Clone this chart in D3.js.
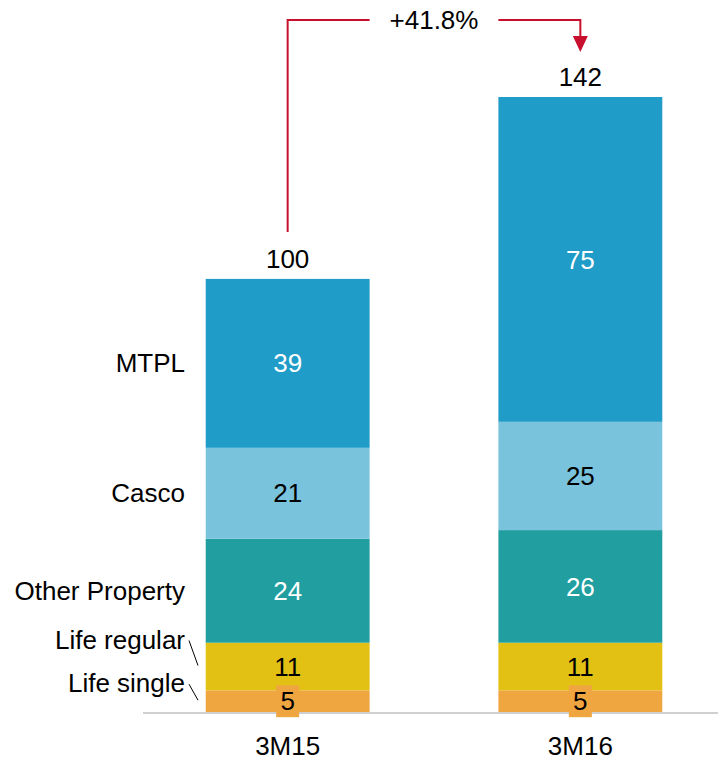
<!DOCTYPE html>
<html><head><meta charset="utf-8">
<script src="https://cdn.jsdelivr.net/npm/d3@7/dist/d3.min.js"></script>
<style>
html,body{margin:0;padding:0;background:#fff;}
svg{display:block;font-family:"Liberation Sans",Arial,sans-serif;}
</style></head>
<body><svg id="c" width="718" height="761"></svg>
<script>
// ---- data ----
const categories = ["3M15", "3M16"];
const segmentNames = ["Life single", "Life regular", "Other Property", "Casco", "MTPL"];
const lifeSingle = [5, 5];
const lifeRegular = [11, 11];
const otherProperty = [24, 26];
const casco = [21, 25];
const mtpl = [39, 75];
const totals = [100, 142];
const growthLabel = "+41.8%";

const colors = {"Life single":"#f0a640","Life regular":"#e3c014","Other Property":"#219e9f","Casco":"#7ac3dc","MTPL":"#1f9cc7"};
const textColors = {"Life single":"#000","Life regular":"#000","Other Property":"#fff","Casco":"#000","MTPL":"#fff"};
const labelOffset = {"Life single":-18,"Life regular":-27,"Other Property":0,"Casco":0,"MTPL":0};

const rows = categories.map((c,i)=>({cat:c,"Life single":lifeSingle[i],"Life regular":lifeRegular[i],"Other Property":otherProperty[i],"Casco":casco[i],"MTPL":mtpl[i],total:totals[i]}));

const svg = d3.select("#c");
const FS = 26;
const x = d3.scaleBand().domain(categories).range([146, 722]).paddingInner(0.44).paddingOuter(0.204);
const y = d3.scaleLinear().domain([0, 142]).range([712, 97]);

const stack = d3.stack().keys(segmentNames)(rows);

// bars
const g = svg.append("g");
stack.forEach(layer=>{
  g.selectAll(null).data(layer).enter().append("rect")
    .attr("x", d=>x(d.data.cat)).attr("width", x.bandwidth())
    .attr("y", d=>y(d[1])).attr("height", d=>y(d[0])-y(d[1]))
    .attr("fill", colors[layer.key]);
});

// axis baseline
svg.append("line").attr("x1",143).attr("x2",718).attr("y1",y(0)+1).attr("y2",y(0)+1)
  .attr("stroke","#d0d0d0").attr("stroke-width",2);

// value labels
stack.forEach(layer=>{
  layer.forEach(d=>{
    const cx = x(d.data.cat)+x.bandwidth()/2;
    const cy = (y(d[0])+y(d[1]))/2;
    if(layer.key==="Life single"){
      svg.append("rect").attr("x",cx-11.5).attr("y",cy-16).attr("width",23).attr("height",32).attr("fill",colors[layer.key]);
    }
    svg.append("text").attr("x",cx).attr("y",cy).attr("dy","0.35em")
      .attr("text-anchor","middle").attr("font-size",FS).attr("fill",textColors[layer.key])
      .text(d[1]-d[0]);
  });
});

// totals
rows.forEach(r=>{
  svg.append("text").attr("x",x(r.cat)+x.bandwidth()/2).attr("y",y(r.total)-11)
    .attr("text-anchor","middle").attr("font-size",FS).attr("fill","#000").text(r.total);
});

// category labels on left
const first = stack.map(l=>({key:l.key,d:l[0]}));
first.forEach(({key,d})=>{
  const cy = (y(d[0])+y(d[1]))/2;
  const ly = cy + labelOffset[key];
  svg.append("text").attr("x",185).attr("y",ly).attr("dy","0.35em")
    .attr("text-anchor","end").attr("font-size",FS).attr("fill","#000").text(key);
  if(labelOffset[key]!==0){
    svg.append("line").attr("x1",189).attr("y1",ly+1).attr("x2",198).attr("y2",cy-1)
      .attr("stroke","#000").attr("stroke-width",1);
  }
});

// x labels
categories.forEach(c=>{
  svg.append("text").attr("x",x(c)+x.bandwidth()/2).attr("y",755)
    .attr("text-anchor","middle").attr("font-size",FS).attr("fill","#000").text(c);
});

// growth arrow
const red = "#c8102e";
const x1 = x(categories[0])+x.bandwidth()/2, x2 = x(categories[1])+x.bandwidth()/2;
const topY = 20;
const y1 = y(totals[0])-47, tip = y(totals[1])-45;
const gapL = x(categories[0])+x.bandwidth(), gapR = x(categories[1]);
svg.append("path").attr("d",`M${x1},${y1}V${topY}H${gapL}`).attr("fill","none").attr("stroke",red).attr("stroke-width",2);
svg.append("path").attr("d",`M${gapR},${topY}H${x2}V${tip-15}`).attr("fill","none").attr("stroke",red).attr("stroke-width",2);
svg.append("path").attr("d",`M${x2-7.5},${tip-16}L${x2+7.5},${tip-16}L${x2},${tip}Z`).attr("fill",red);
svg.append("text").attr("x",(gapL+gapR)/2).attr("y",topY).attr("dy","0.35em")
  .attr("text-anchor","middle").attr("font-size",FS).attr("fill","#000").text(growthLabel);
</script></body></html>
